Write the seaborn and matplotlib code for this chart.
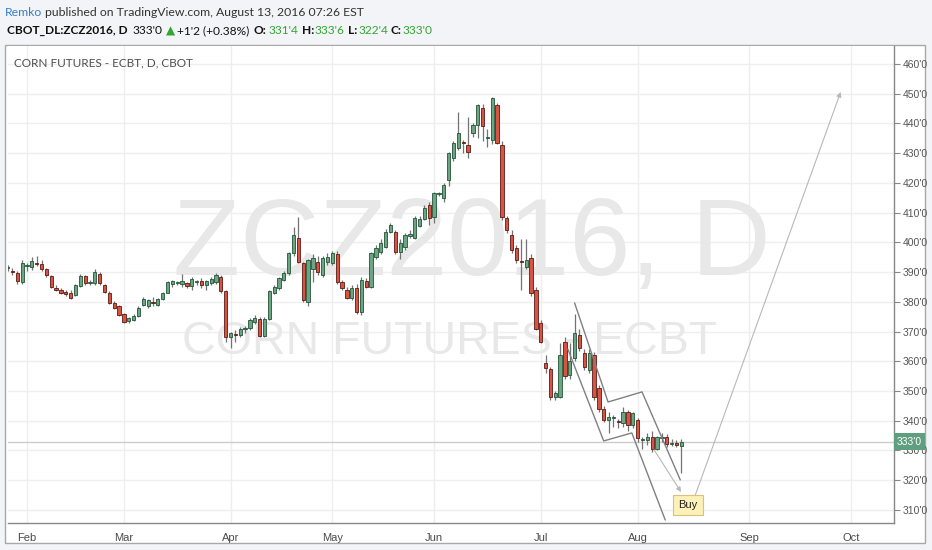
import numpy as np
import pandas as pd
import matplotlib
matplotlib.use("Agg")
import matplotlib.pyplot as plt
import matplotlib.transforms as mtrans
from matplotlib.patches import Rectangle
import seaborn as sns

# ========== data (daily bars, ZCZ2016, bar 0 = Feb 1 2016) ==========
opens = [391.5, 390.3, 389.7, 386.7, 392, 391.7, 393, 392.7, 391, 388.7,
         384.8, 384, 383.3, 383, 382.3, 385.3, 388.7, 386.3, 386.3, 389.4,
         385.7, 383, 379.6, 378.6, 375.9, 373.6, 373.9, 375.2, 379, 378.6,
         379.8, 379, 381, 383, 386, 386.3, 386, 386.3, 385.3, 386.7,
         387, 385.7, 386.3, 386.7, 388.3, 383.6, 368.2, 369.3, 369, 371,
         371.2, 373.2, 374.2, 368.5, 374.2, 383, 384.7, 387.4, 389.7, 396.4,
         401.5, 393, 380, 391, 393.4, 389, 393.4, 393, 396, 386.7,
         384, 381.3, 384.7, 376.6, 387, 385, 395, 396.7, 398.4, 403.5,
         403.5, 396.7, 398.4, 402.2, 401.5, 405.5, 408, 412.6, 408.5, 416.3,
         415, 421, 428.4, 431.7, 433.7, 432.7, 436.8, 439.5, 445.2, 435.2,
         434.4, 446.2, 432.7, 408.2, 402.5, 398, 393.8, 391.7, 394.7, 384,
         373, 359.4, 357.4, 348, 348, 366.5, 355.3, 361, 369, 362.8,
         357, 362, 351, 344, 340.3, 341, 339.7, 339.3, 343, 338.6,
         340.3, 333.5, 333.5, 334.5, 330.5, 334.3, 334.5, 332.3, 332.5, 331.5]
highs = [392.5, 391.5, 390.5, 394, 393, 395, 395.5, 394, 391.5, 389,
         385.5, 384.5, 384, 384, 386, 389.5, 389, 387.5, 391, 390,
         386, 383.5, 380.2, 379, 376.3, 375, 376, 378.5, 381.5, 381,
         381.5, 381.2, 383.3, 387, 387.5, 387, 389.5, 386.8, 388.5, 387.5,
         388, 387.5, 388.2, 389.8, 389, 384, 370, 370.5, 371.5, 372,
         374.5, 375.5, 375, 374.8, 384, 385.5, 388.5, 390.5, 396.8, 405,
         408.5, 393.5, 394.5, 396, 395.5, 395.5, 396.5, 397, 397, 387.5,
         385, 385.5, 386, 388.5, 388, 396.8, 399, 401, 404.5, 406.5,
         404, 401, 403, 404, 408.8, 409, 412.5, 413.5, 417, 417,
         420, 430.5, 434, 444, 434.5, 442, 440, 446.5, 446.5, 438,
         449, 447, 434, 409, 404, 399, 401, 401, 396, 385,
         374, 362, 358, 350, 366, 368, 366, 376, 371, 364,
         364, 363, 352, 345, 343, 342, 340.5, 344.5, 343.5, 343,
         341, 334.5, 336, 336.5, 335, 336, 335.5, 334, 333.5, 333.75]
lows = [390.5, 389, 386, 386, 390.5, 390.8, 392, 390.5, 388.5, 384.5,
        383.5, 382.5, 382, 381, 382, 385, 385.5, 385.5, 385.5, 385.8,
        382.8, 379.2, 377.5, 375.2, 372.8, 373, 373.5, 375, 378.5, 378,
        378.5, 378.5, 380.5, 382.8, 385, 385.5, 385, 384.8, 384, 385.5,
        384.5, 384, 385.5, 386, 383, 366.5, 364.5, 366.5, 368, 369.5,
        370.5, 372.5, 368, 368, 374, 382.5, 384, 387, 389, 395.5,
        393, 380, 378.5, 386.5, 389, 388.5, 392.5, 392.5, 386, 384,
        381, 380.5, 376, 375.5, 384.5, 384.5, 394.5, 396, 398, 403,
        396, 394.5, 397.5, 401.5, 401, 405, 407.5, 406, 406.5, 415.5,
        413.5, 419, 427.5, 431, 430, 428.5, 435.5, 435, 434, 432,
        433, 433, 407.5, 403, 396.5, 393, 384, 391, 382, 370.5,
        366, 356, 347, 347, 347.5, 354, 354, 360, 363.5, 357,
        356, 347, 343, 339.5, 336, 338, 337.5, 338, 336.5, 337.5,
        333, 330.5, 332, 329.5, 330, 333, 331, 331.5, 331, 322.5]
closes = [391.7, 390, 387, 393, 392.3, 393.7, 392.7, 391, 389, 385,
          384, 383, 382.6, 381.3, 385.7, 388.7, 386.3, 386.7, 390, 386.3,
          383.3, 379.6, 377.9, 375.6, 373.2, 374.6, 375.2, 377.9, 381, 380.6,
          379.6, 381, 383, 386.7, 387, 386.5, 387, 385.3, 387.7, 386.9,
          385.7, 387, 387.7, 389, 383.6, 368.2, 369.5, 369, 371, 371.3,
          374, 374.6, 368.5, 374.2, 383.6, 385, 388, 389.7, 396.4, 402.5,
          393.4, 380.6, 394, 394.7, 390, 394.7, 395, 396.4, 386.7, 384.7,
          381.3, 384.7, 376.6, 387.3, 385, 396.4, 398, 399.8, 403.5, 405.8,
          396.7, 399.8, 402.5, 402.7, 408.2, 408, 411.6, 408.2, 416.6, 416.5,
          419.3, 430, 433.4, 436.8, 433.5, 430.4, 439.5, 446.2, 439.2, 435.4,
          448.6, 433.4, 408.5, 404, 397.5, 394, 393.5, 394, 383, 371,
          366.5, 357.8, 348, 349.3, 362, 355, 360, 369.5, 364.5, 358,
          362.8, 348, 344, 340.3, 341.3, 341.2, 339.6, 343, 338.6, 342.6,
          334.2, 333.6, 334.5, 330.5, 334.5, 334.5, 332.2, 332.5, 331.75, 333]
bar_index = list(range(-4, 136))

month_labels = ["Feb", "Mar", "Apr", "May", "Jun", "Jul", "Aug", "Sep", "Oct"]
month_bars = [0, 20, 42, 63, 84, 106, 126, 149, 170]
price_ticks = list(range(310, 470, 10))
last_price = 333.0

# drawings (bar index, price)
upper_line_x = [113.0, 119.9, 126.9, 134.8]
upper_line_y = [379.6, 346.3, 349.7, 320.1]
lower_line_x = [111.6, 119.0, 124.8, 131.7]
lower_line_y = [364.1, 333.2, 335.9, 306.6]
arrow1 = [(129.4, 330.2), (134.96, 316.0)]
arrow2 = [(137.9, 315.0), (167.9, 450.6)]
buy_pos = (136.4, 311.7)

df = pd.DataFrame({"i": bar_index, "o": opens, "h": highs, "l": lows, "c": closes})
df["up"] = df["c"] >= df["o"]

W, H = 932, 550
sns.set_theme(style="white")
plt.rcParams["font.family"] = ["Lato", "DejaVu Sans"]

fig = plt.figure(figsize=(W / 100, H / 100), dpi=100)
fig.patch.set_facecolor("#f2f4f7")

def fx(x):
    return x / W

def fy(y):
    return 1 - y / H

# white chart panel (behind the axes)
fig.patches.append(Rectangle((fx(5), fy(543)), fx(920), 498 / H, transform=fig.transFigure,
                             facecolor="white", edgecolor="#a8a8a8", linewidth=1, zorder=-10))

ax = fig.add_axes([fx(8), fy(523), 886 / W, 477 / H])
ax.set_facecolor("white")

# grid
for b in month_bars:
    ax.axvline(b, color="#eeeeee", lw=1, zorder=0)
for p in price_ticks:
    ax.axhline(p, color="#efefef", lw=1, zorder=0)

# watermark
ax.text(0.524, 0.579, "ZCZ2016, D", transform=ax.transAxes, ha="center", va="center",
        fontsize=79, color="#e8e8e8", family="Liberation Sans", zorder=0.5)
ax.text(0.498, 0.379, "CORN FUTURES - ECBT", transform=ax.transAxes, ha="center", va="center",
        fontsize=33.5, color="#e8e8e8", family="Liberation Sans", zorder=0.5)

# last price line
ax.axhline(last_price, color="#cccccc", lw=1, zorder=1)

# candles
up = df[df["up"]]
dn = df[~df["up"]]
ax.vlines(df["i"], df["l"], df["h"], color="#737375", lw=0.9, zorder=2)
for part, fill, edge in [(up, "#6ba583", "#225437"), (dn, "#d75442", "#5b1a13")]:
    body = (part["c"] - part["o"]).abs().clip(lower=0.3)
    ax.bar(part["i"], body, bottom=part[["o", "c"]].min(axis=1), width=0.68,
           color=fill, edgecolor=edge, linewidth=0.6, zorder=3)

# pattern drawings
ax.plot(upper_line_x, upper_line_y, color="#808080", lw=1, zorder=4)
ax.plot(lower_line_x, lower_line_y, color="#808080", lw=1, zorder=4)
for (x0, y0), (x1, y1) in [arrow1, arrow2]:
    ax.annotate("", xy=(x1, y1), xytext=(x0, y0),
                arrowprops=dict(arrowstyle="-|>", color="#b8b8b8", lw=0.8,
                                mutation_scale=7, shrinkA=0, shrinkB=0), zorder=4)
ax.text(buy_pos[0], buy_pos[1], "Buy", ha="center", va="center", fontsize=8, color="#222222",
        family="Liberation Sans",
        bbox=dict(boxstyle="square,pad=0.45", fc="#fdf1b8", ec="#d9c27a", lw=0.8), zorder=5)

ax.set_xlim(-3.92, 178.9)
ax.set_ylim(305.6, 466.05)

# axes look
for s in ["top", "left"]:
    ax.spines[s].set_visible(False)
for s in ["right", "bottom"]:
    ax.spines[s].set_color("#888888")
    ax.spines[s].set_linewidth(1)

ax.yaxis.tick_right()
ax.set_yticks(price_ticks)
ax.set_yticklabels([f"{p}'0" for p in price_ticks])
ax.set_xticks(month_bars)
ax.set_xticklabels(month_labels)
ax.tick_params(axis="y", length=4, width=0.8, color="#888888", pad=2,
               labelsize=7.5, labelcolor="#555555", labelfontfamily="Liberation Sans")
ax.tick_params(axis="x", length=4, width=0.8, color="#888888", pad=3,
               labelsize=8, labelcolor="#4a4a4a", labelfontfamily="Liberation Sans")
ax.grid(False)

# last price label
trans = mtrans.blended_transform_factory(ax.transAxes, ax.transData)
ax.text(1.003, last_price, "333'0", transform=trans, ha="left", va="center", fontsize=7.5,
        color="white", family="Liberation Sans", clip_on=False, zorder=10,
        bbox=dict(boxstyle="square,pad=0.3", fc="#5f9e7f", ec="none"))

# chart title
ax.text(0.0068, 0.964, "CORN FUTURES - ECBT, D, CBOT", transform=ax.transAxes,
        ha="left", va="center", fontsize=8.5, color="#4d4d4d")

# header
fig.text(fx(5), fy(12), "Remko", color="#3a7fc1", fontsize=8.8, va="center", ha="left")
fig.text(fx(45), fy(12), "published on TradingView.com, August 13, 2016 07:26 EST",
         color="#333333", fontsize=8.8, va="center", ha="left")
green = "#33a533"
header2 = [
    ("CBOT_DL:ZCZ2016, D", "#111111", "bold", 5),
    ("333'0", "#111111", "normal", 3),
    ("\u25b2", green, "normal", 2),
    ("+1'2 (+0.38%)", "#111111", "normal", 5),
    ("O:", "#111111", "bold", 2),
    ("331'4", green, "normal", 3),
    ("H:", "#111111", "bold", 1),
    ("333'6", green, "normal", 3),
    ("L:", "#111111", "bold", 1),
    ("322'4", green, "normal", 3),
    ("C:", "#111111", "bold", 1),
    ("333'0", green, "normal", 0),
]
renderer = fig.canvas.get_renderer()
cursor = 7
for t, col, wt, gap in header2:
    fam = ["DejaVu Sans"] if t == "\u25b2" else ["Lato", "DejaVu Sans"]
    txt = fig.text(fx(cursor), fy(31), t, color=col, fontsize=8.6, fontweight=wt,
                   va="center", ha="left", family=fam)
    cursor += txt.get_window_extent(renderer).width + gap

fig.savefig("out.png", dpi=100, facecolor=fig.get_facecolor())
